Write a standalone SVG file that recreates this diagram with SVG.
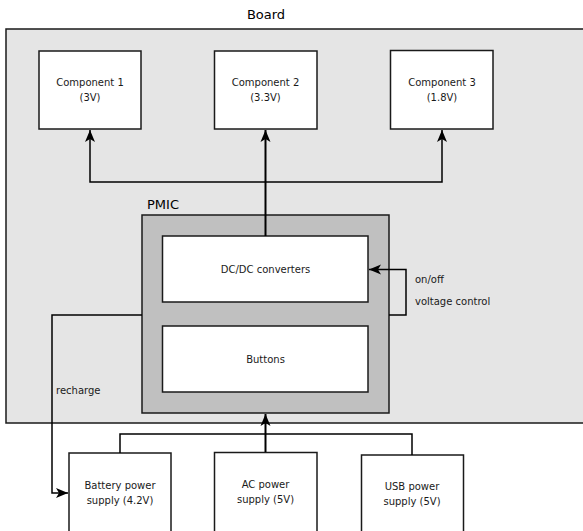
<svg xmlns="http://www.w3.org/2000/svg" width="583" height="531" viewBox="0 0 583 531">
<style>
.box{fill:#fff;stroke:#1a1a1a;stroke-width:1.5}
.t{font-family:"DejaVu Sans",sans-serif;font-size:10px;fill:#1a1a1a;text-anchor:middle}
.tl{font-family:"DejaVu Sans",sans-serif;font-size:10px;fill:#1a1a1a}
.big{font-family:"DejaVu Sans",sans-serif;font-size:13px;fill:#000}
.c{fill:none;stroke:#000;stroke-width:2}
.c2{fill:none;stroke:#000;stroke-width:1.5}
</style>
<defs>
<marker id="ah" markerWidth="14" markerHeight="14" refX="12" refY="7" orient="auto" markerUnits="userSpaceOnUse">
<path d="M0,2 L12,7 L0,12 L3,7 Z" fill="#000"/>
</marker>
</defs>
<g id="board">
<rect x="6" y="29" width="590" height="394" fill="#e5e5e5" stroke="#1a1a1a" stroke-width="1.5"/>
<text class="big" x="266" y="19" text-anchor="middle">Board</text>
</g>
<g id="pmic">
<rect x="142" y="215" width="247" height="198" fill="#c0c0c0" stroke="#1a1a1a" stroke-width="1.5"/>
<text class="big" x="147" y="209">PMIC</text>
</g>
<g id="comp1">
<rect class="box" x="39" y="51" width="102" height="78"/>
<text class="t" x="90" y="86">Component 1</text>
<text class="t" x="90" y="101">(3V)</text>
</g>
<g id="comp2">
<rect class="box" x="214.5" y="51" width="102.5" height="78"/>
<text class="t" x="265.5" y="86">Component 2</text>
<text class="t" x="265.5" y="101">(3.3V)</text>
</g>
<g id="comp3">
<rect class="box" x="390.5" y="50.5" width="102.5" height="78.5"/>
<text class="t" x="442" y="86">Component 3</text>
<text class="t" x="442" y="101">(1.8V)</text>
</g>
<g id="dcdc">
<rect class="box" x="162.5" y="236" width="205.5" height="66"/>
<text class="t" x="265.5" y="273">DC/DC converters</text>
</g>
<g id="buttons">
<rect class="box" x="162.5" y="326" width="205.5" height="66"/>
<text class="t" x="265.5" y="363">Buttons</text>
</g>
<g id="battery">
<rect class="box" x="69" y="453" width="102" height="80"/>
<text class="t" x="120" y="489">Battery power</text>
<text class="t" x="120" y="504">supply (4.2V)</text>
</g>
<g id="ac">
<rect class="box" x="214.5" y="452.5" width="102.5" height="80"/>
<text class="t" x="265.5" y="488">AC power</text>
<text class="t" x="265.5" y="503">supply (5V)</text>
</g>
<g id="usb">
<rect class="box" x="361.5" y="455" width="102" height="80"/>
<text class="t" x="412" y="490">USB power</text>
<text class="t" x="412" y="505">supply (5V)</text>
</g>
<g id="connectors">
<path class="c" d="M265.5,236 V130" marker-end="url(#ah)"/>
<path class="c2" d="M265.5,182 H90 V130" marker-end="url(#ah)"/>
<path class="c2" d="M265.5,182 H442 V130" marker-end="url(#ah)"/>
<path class="c2" d="M389,315 H406 V269.5 H369" marker-end="url(#ah)"/>
<path class="c2" d="M142,315 H52 V493 H68" marker-end="url(#ah)"/>
<path class="c" d="M265.5,452 V414" marker-end="url(#ah)"/>
<path class="c2" d="M120,453 V434 H412 V455"/>
<text class="tl" x="415" y="283">on/off</text>
<text class="tl" x="415" y="305">voltage control</text>
<text class="tl" x="56" y="394">recharge</text>
</g>
</svg>
